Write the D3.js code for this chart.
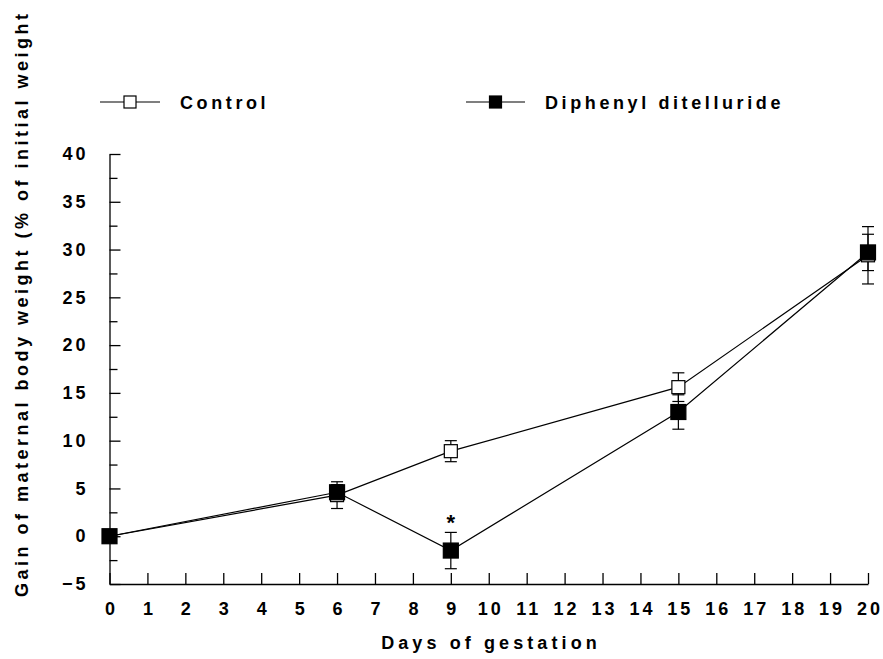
<!DOCTYPE html>
<html>
<head>
<meta charset="utf-8">
<script src="https://cdn.jsdelivr.net/npm/d3@7"></script>
<style>
  body { margin: 0; background: #fff; }
  text { font-family: "Liberation Sans", Arial, sans-serif; font-weight: bold; fill: #000; }
</style>
</head>
<body>
<div id="chart"></div>
<script>
const days = [0, 6, 9, 15, 20];
const controlMean = [0, 4.3, 8.9, 15.6, 29.4];
const controlErr = [0, 1.4, 1.1, 1.5, 3.0];
const dptMean = [0, 4.6, -1.5, 13.0, 29.7];
const dptErr = [0, 0.8, 1.9, 1.8, 1.9];
const xTicks = d3.range(0, 21);
const yTicks = [-5, 0, 5, 10, 15, 20, 25, 30, 35, 40];
const yMinor = [-2.5, 2.5, 7.5, 12.5, 17.5, 22.5, 27.5, 32.5, 37.5];

const width = 883, height = 659;
const svg = d3.select("#chart").append("svg")
  .attr("width", width).attr("height", height);

const x = d3.scaleLinear().domain([0, 20]).range([109.5, 868]);
const y = d3.scaleLinear().domain([-5, 40]).range([584, 154]);

// y axis: major ticks with labels, minor ticks inward
const yAxis = svg.append("g")
  .attr("transform", `translate(${x(0)},0)`)
  .call(d3.axisLeft(y).tickValues(yTicks).tickSize(-11).tickSizeOuter(0).tickPadding(24));
yAxis.selectAll("text")
  .attr("font-size", 18).attr("font-family", null)
  .style("letter-spacing", "3px")
  .attr("dx", 3);
svg.append("g")
  .attr("transform", `translate(${x(0)},0)`)
  .call(d3.axisLeft(y).tickValues(yMinor).tickSize(-8).tickSizeOuter(0).tickFormat(""))
  .select(".domain").remove();

// x axis, ticks pointing up
const xAxis = svg.append("g")
  .attr("transform", `translate(0,${y(-5)})`)
  .call(d3.axisBottom(x).tickValues(xTicks).tickSize(-11).tickSizeOuter(0).tickPadding(18));
xAxis.selectAll("text")
  .attr("font-size", 18).attr("font-family", null)
  .style("letter-spacing", "3px")
  .attr("dx", 1.5);

svg.selectAll(".domain, .tick line").attr("stroke", "#000").attr("stroke-width", 1.3);

// axis titles
svg.append("text")
  .attr("x", 491).attr("y", 649)
  .attr("text-anchor", "middle")
  .attr("font-size", 18)
  .style("letter-spacing", "4.1px")
  .text("Days of gestation");

svg.append("text")
  .attr("transform", "translate(28,597) rotate(-90)")
  .attr("font-size", 18)
  .style("letter-spacing", "3.5px")
  .text("Gain of maternal body weight (% of initial weight");

const series = [
  { name: "Control", mean: controlMean, err: controlErr, fill: "#fff", size: 13 },
  { name: "Diphenyl ditelluride", mean: dptMean, err: dptErr, fill: "#000", size: 15 }
];

const line = d3.line().x((d, i) => x(days[i])).y(d => y(d));

series.forEach(s => {
  svg.append("path")
    .attr("d", line(s.mean))
    .attr("fill", "none").attr("stroke", "#000").attr("stroke-width", 1.2);
});

series.forEach(s => {
  const g = svg.append("g");
  days.forEach((dday, i) => {
    if (s.err[i] === 0) return;
    const cx = x(dday), hi = y(s.mean[i] + s.err[i]), lo = y(s.mean[i] - s.err[i]);
    g.append("line").attr("x1", cx).attr("x2", cx).attr("y1", hi).attr("y2", lo)
      .attr("stroke", "#000").attr("stroke-width", 1.2);
    [hi, lo].forEach(yy => g.append("line")
      .attr("x1", cx - 6).attr("x2", cx + 6).attr("y1", yy).attr("y2", yy)
      .attr("stroke", "#000").attr("stroke-width", 1.2));
  });
});

series.forEach(s => {
  svg.append("g").selectAll("rect")
    .data(s.mean)
    .join("rect")
    .attr("x", (d, i) => x(days[i]) - s.size / 2)
    .attr("y", d => y(d) - s.size / 2)
    .attr("width", s.size).attr("height", s.size)
    .attr("fill", s.fill).attr("stroke", "#000").attr("stroke-width", 1.2);
});

// significance marker
svg.append("text")
  .attr("x", x(9)).attr("y", y(dptMean[2] + dptErr[2]) - 2)
  .attr("text-anchor", "middle")
  .attr("font-size", 22)
  .text("*");

// legend
const legend = [
  { s: series[0], x0: 100, x1: 160, tx: 180 },
  { s: series[1], x0: 466, x1: 525, tx: 545 }
];
legend.forEach(l => {
  const ly = 102;
  svg.append("line").attr("x1", l.x0).attr("x2", l.x1).attr("y1", ly).attr("y2", ly)
    .attr("stroke", "#000").attr("stroke-width", 1.2);
  const sz = 12;
  svg.append("rect")
    .attr("x", (l.x0 + l.x1) / 2 - sz / 2).attr("y", ly - sz / 2)
    .attr("width", sz).attr("height", sz)
    .attr("fill", l.s.fill).attr("stroke", "#000").attr("stroke-width", 1.2);
  svg.append("text")
    .attr("x", l.tx).attr("y", ly + 6.5)
    .attr("font-size", 18)
    .style("letter-spacing", "3.6px")
    .text(l.s.name);
});
</script>
</body>
</html>
